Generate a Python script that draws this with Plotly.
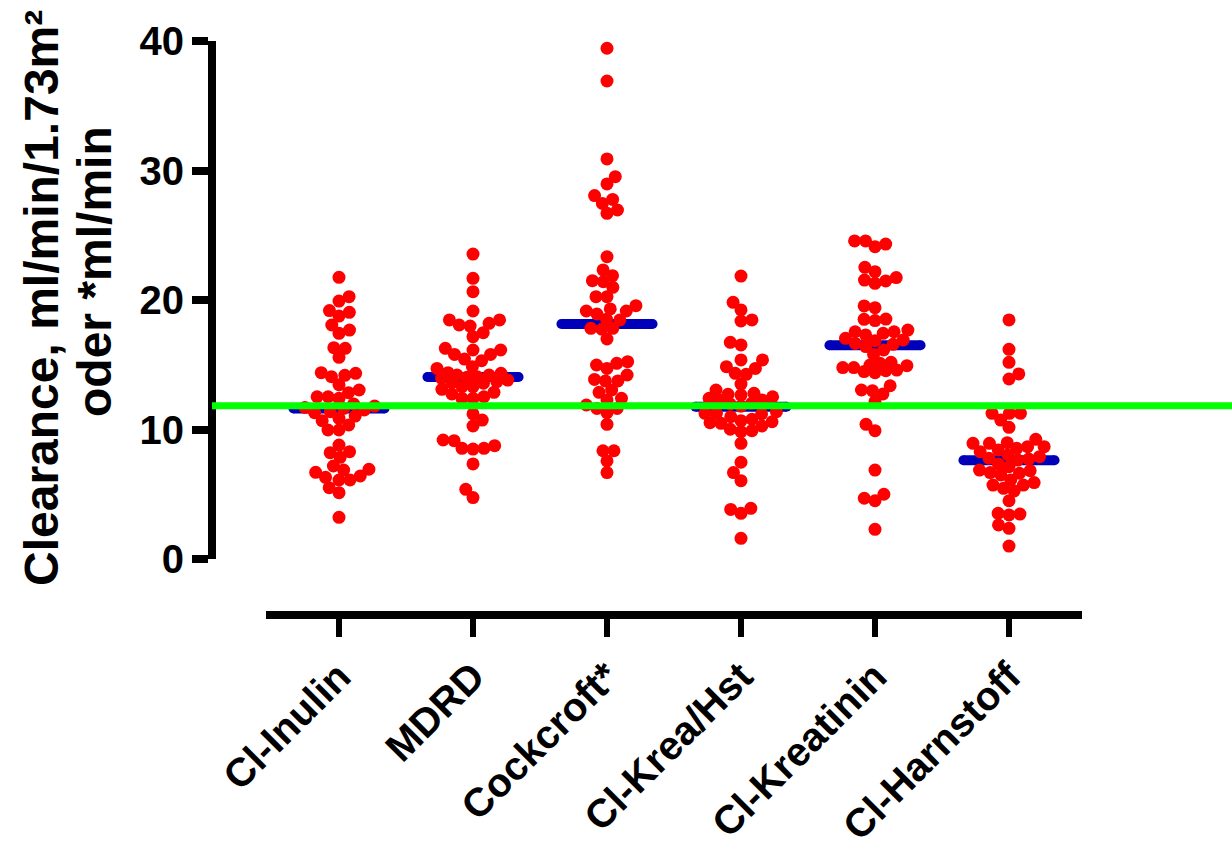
import math
import numpy as np
import plotly.graph_objects as go

categories = ["Cl-Inulin", "MDRD", "Cockcroft*", "Cl-Krea/Hst", "Cl-Kreatinin", "Cl-Harnstoff"]

inulin = [21.75, 20.26, 19.92, 19.18, 19.05, 18.76, 18.07, 17.68, 17.43, 16.32, 16.27, 15.57,
          14.34, 14.39, 14.18, 14.08, 13.46, 13.05, 12.84, 12.53, 12.53, 12.41, 11.97, 11.81,
          11.70, 11.63, 11.51, 11.38, 11.30, 11.04, 10.86, 10.68, 10.35, 9.96, 9.96, 8.80,
          8.29, 8.21, 7.85, 7.18, 6.93, 6.87, 6.69, 6.41, 6.31, 6.10, 6.10, 5.51, 5.12, 3.22]

mdrd = [23.55, 21.67, 20.64, 19.15, 18.46, 18.46, 18.20, 18.07, 17.99, 17.48, 17.17, 16.27,
        16.14, 16.14, 15.80, 15.80, 15.44, 15.31, 14.85, 14.72, 14.39, 14.34, 14.20, 14.20,
        14.08, 14.03, 13.95, 13.82, 13.69, 13.61, 13.57, 13.31, 13.31, 13.10, 12.87, 12.74,
        12.53, 12.41, 12.41, 11.20, 10.73, 10.27, 9.19, 9.14, 8.75, 8.55, 8.49, 8.55, 7.34,
        5.38, 4.74]

cockcroft = [39.44, 36.91, 30.89, 29.52, 28.96, 28.06, 27.77, 27.46, 26.95, 26.69, 23.34,
             22.32, 21.88, 21.49, 21.41, 20.98, 20.26, 20.26, 19.56, 19.31, 19.15, 19.15,
             18.92, 18.51, 18.46, 17.81, 17.74, 17.81, 16.99, 15.11, 15.24, 14.98, 14.72,
             14.21, 13.87, 13.75, 13.75, 13.05, 12.87, 12.41, 12.28, 11.89, 11.63, 11.63,
             11.30, 10.40, 8.36, 8.36, 7.57, 6.67]

krea_hst = [21.85, 19.82, 19.23, 18.38, 18.46, 16.73, 16.53, 15.37, 15.37, 14.85, 14.72,
            14.34, 14.26, 13.51, 13.05, 12.72, 12.66, 12.79, 12.53, 12.41, 12.28, 12.28,
            12.02, 11.97, 11.80, 11.38, 11.25, 11.25, 11.20, 10.99, 10.79, 10.68, 10.60,
            10.53, 10.48, 10.27, 10.02, 9.91, 9.83, 8.93, 7.47, 6.67, 6.05, 3.91, 3.83,
            3.53, 1.60]

kreatinin = [24.56, 24.56, 24.32, 24.12, 22.52, 22.19, 21.73, 21.47, 21.54, 21.29, 19.54,
             19.41, 18.53, 18.51, 18.41, 17.68, 17.55, 17.55, 17.43, 17.30, 17.04, 16.91,
             16.86, 16.65, 16.58, 16.40, 16.14, 15.80, 15.19, 15.11, 14.98, 14.93, 14.78,
             14.78, 14.59, 14.54, 14.47, 14.39, 13.38, 13.05, 13.00, 12.74, 12.15, 10.40,
             9.91, 6.87, 5.00, 4.69, 4.50, 2.29]

harnstoff = [18.46, 16.19, 15.19, 14.29, 13.90, 11.25, 11.25, 11.25, 10.73, 10.17, 9.24,
             8.93, 8.93, 8.98, 8.67, 8.67, 8.55, 8.42, 8.29, 8.03, 7.90, 7.78, 7.72, 7.64,
             7.34, 7.13, 6.82, 6.67, 6.62, 6.87, 6.49, 6.10, 5.90, 5.71, 5.71, 5.46, 5.25,
             4.50, 3.47, 3.53, 3.40, 2.63, 2.37, 1.00]

medians = [11.63, 14.05, 18.15, 11.76, 16.50, 7.62]
reference_line = 11.84

groups = [inulin, mdrd, cockcroft, krea_hst, kreatinin, harnstoff]

# ---- geometry (pixels) ----
W, H = 1232, 848
X_LEFT, X_RIGHT = 266, 1082
PX_PER_CAT = 134.0
Y_TOP, Y_BOT = 41, 559
Y_AXIS_X = 212
X_AXIS_Y = 615
PX_PER_UNIT_Y = (Y_BOT - Y_TOP) / 40.0
x_lo = -(339 - X_LEFT) / PX_PER_CAT
x_hi = 5 + (X_RIGHT - 1009) / PX_PER_CAT


def swarm(vals, d=11.0, maxw=36.0):
    """Greedy beeswarm limited to +-maxw px: offsets (category units) from values."""
    vals = np.asarray(vals, dtype=float)
    order = np.argsort(vals, kind="stable")
    placed = []
    offs = np.zeros(len(vals))
    last_sign = 1
    grid = np.arange(-maxw, maxw + 0.5, 1.0)
    for i in order:
        y = vals[i] * PX_PER_UNIT_Y
        near = [(px, py) for px, py in placed if abs(py - y) < d]
        cands = [0.0]
        for px, py in near:
            dx = math.sqrt(d * d - (py - y) ** 2)
            cands += [px + dx, px - dx]
        cands = [c for c in cands if abs(c) <= maxw]
        cands.sort(key=lambda c: (round(abs(c), 3), 0 if (c * last_sign) < 0 else 1))
        chosen = None
        for c in cands:
            if all((c - px) ** 2 + (y - py) ** 2 >= d * d - 1e-6 for px, py in near):
                chosen = c
                break
        if chosen is None:
            best, bestd = 0.0, -1.0
            for g in grid:
                md = min((g - px) ** 2 + (y - py) ** 2 for px, py in near)
                if md > bestd + 1e-9:
                    best, bestd = g, md
            chosen = float(best)
        if chosen != 0:
            last_sign = 1 if chosen > 0 else -1
        placed.append((chosen, y))
        offs[i] = chosen
    return offs / PX_PER_CAT


FONT = "Arial, 'Liberation Sans', sans-serif"

fig = go.Figure()

# median bars
half = 0.34
for i, m in enumerate(medians):
    fig.add_trace(go.Scatter(
        x=[i - half, i + half], y=[m, m], mode="lines+markers",
        line=dict(color="#0000b8", width=10),
        marker=dict(color="#0000b8", size=10),
        hoverinfo="skip", cliponaxis=False))

# dots
for i, vals in enumerate(groups):
    offs = swarm(vals)
    fig.add_trace(go.Scatter(
        x=[i + o for o in offs], y=vals, mode="markers",
        marker=dict(color="#ff0000", size=13, line=dict(width=0)),
        cliponaxis=False, name=categories[i]))

fig.add_shape(type="line", xref="paper", yref="y",
              x0=Y_AXIS_X / W, x1=1.0, y0=reference_line, y1=reference_line,
              line=dict(color="#00ff00", width=7), layer="above")

fig.update_layout(
    width=W, height=H, margin=dict(l=0, r=0, t=0, b=0),
    paper_bgcolor="white", plot_bgcolor="white", showlegend=False,
    xaxis=dict(
        domain=[X_LEFT / W, X_RIGHT / W], range=[x_lo, x_hi],
        anchor="free", position=(H - X_AXIS_Y) / H,
        tickmode="array", tickvals=list(range(6)), ticktext=categories,
        tickangle=-45, ticks="outside", ticklen=18, tickwidth=6, tickcolor="black",
        showline=True, linewidth=8, linecolor="black",
        showgrid=False, zeroline=False,
        tickfont=dict(family=FONT, size=40, color="black", weight="bold"),
        automargin=False),
    yaxis=dict(
        domain=[(H - Y_BOT) / H, (H - Y_TOP) / H], range=[0, 40],
        anchor="free", position=Y_AXIS_X / W,
        tickmode="array", tickvals=[0, 10, 20, 30, 40],
        ticks="outside", ticklen=16, tickwidth=8, tickcolor="black",
        showline=True, linewidth=8, linecolor="black",
        showgrid=False, zeroline=False,
        tickfont=dict(family=FONT, size=40, color="black", weight="bold"),
        automargin=False),
)

title_font = dict(family=FONT, size=48, color="black", weight="bold")
fig.add_annotation(text="Clearance, ml/min/1.73m²", xref="paper", yref="paper",
                   x=42 / W, y=(H - 298) / H, textangle=-90, showarrow=False,
                   font=title_font, xanchor="center", yanchor="middle")
fig.add_annotation(text="oder *ml/min", xref="paper", yref="paper",
                   x=94 / W, y=(H - 272) / H, textangle=-90, showarrow=False,
                   font=title_font, xanchor="center", yanchor="middle")

fig.write_html("out.html")
